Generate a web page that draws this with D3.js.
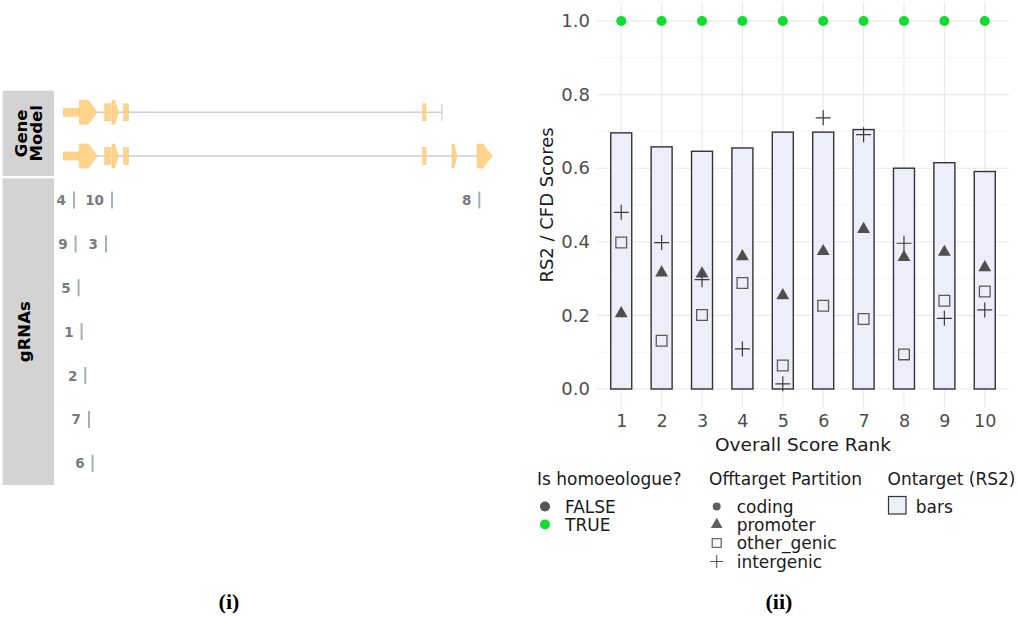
<!DOCTYPE html>
<html>
<head>
<meta charset="utf-8">
<script src="https://cdn.jsdelivr.net/npm/d3@7"></script>
<style>
	body { margin: 0; background: #fff; }
	text { font-family: "DejaVu Sans", sans-serif; }
	text.caption { font-family: "Liberation Serif", "DejaVu Serif", serif; font-weight: bold; }
</style>
</head>
<body>
<div id="container"></div>
<script>
// ---- panel (i) data: gene model + gRNA positions (bp, relative) ----
var transcripts = ["T1", "T2"];
var transcriptEnd = [18950, 21450];
var exonsT1 = [[0, 800, "utr"], [800, 1700, "arrow"], [2070, 2230, "cds"], [2265, 2385, "cds"],
	[2435, 2765, "arrow"], [3015, 3265, "cds"], [17985, 18150, "cds"], [18920, 18950, "tick"]];
var exonsT2 = [[0, 800, "utr"], [800, 1700, "arrow"], [2070, 2230, "cds"], [2265, 2385, "cds"],
	[2435, 2765, "arrow"], [3015, 3265, "cds"], [17985, 18150, "cds"], [19450, 19700, "arrow"],
	[20700, 21450, "arrow"]];
var grnaNames = ["4", "10", "8", "9", "3", "5", "1", "2", "7", "6"];
var grnaPos = [535, 2435, 20815, 615, 2135, 765, 915, 1100, 1285, 1465];
var grnaRow = [1, 1, 1, 2, 2, 3, 4, 5, 6, 7];

// ---- panel (ii) data ----
var ranks = [1, 2, 3, 4, 5, 6, 7, 8, 9, 10];
var rs2 = [0.696, 0.658, 0.646, 0.655, 0.698, 0.698, 0.705, 0.600, 0.615, 0.591];
var homoeologueCfd = [1, 1, 1, 1, 1, 1, 1, 1, 1, 1];
var promoterCfd = [0.205, 0.316, 0.313, 0.360, 0.254, 0.374, 0.434, 0.358, 0.372, 0.330];
var otherGenicCfd = [0.398, 0.131, 0.201, 0.288, 0.064, 0.226, 0.190, 0.094, 0.240, 0.265];
var intergenicCfd = [0.480, 0.398, 0.297, 0.109, 0.014, 0.737, 0.691, 0.396, 0.192, 0.215];
var yTicks = [0, 0.2, 0.4, 0.6, 0.8, 1.0];
var yMinor = [0.1, 0.3, 0.5, 0.7, 0.9];

var w = 1017, h = 617;
var svg = d3.select("#container").append("svg")
	.attr("width", w)
	.attr("height", h);
svg.append("rect").attr("width", w).attr("height", h).attr("fill", "#fff");

// ================= panel (i) =================
var gx = d3.scaleLinear().domain([0, 21450]).range([63.3, 492]);
var ty = d3.scalePoint().domain(transcripts).range([112.3, 156]);
var ry = d3.scalePoint().domain([1, 2, 3, 4, 5, 6, 7]).range([200, 463.3]);

// title strips
svg.append("rect").attr("x", 2.7).attr("y", 90.7).attr("width", 51.3).attr("height", 85.3).attr("fill", "#d3d3d3");
svg.append("rect").attr("x", 2.7).attr("y", 178.3).attr("width", 51.3).attr("height", 306.7).attr("fill", "#d3d3d3");

var gm = svg.append("g").attr("transform", "translate(0,133.3) rotate(-90)");
gm.append("text").attr("x", 0).attr("y", 26.5).attr("text-anchor", "middle")
	.attr("font-size", 16.5).attr("font-weight", "bold").attr("fill", "#000").text("Gene");
gm.append("text").attr("x", 0).attr("y", 42).attr("text-anchor", "middle")
	.attr("font-size", 16.5).attr("font-weight", "bold").attr("fill", "#000").text("Model");
svg.append("text").attr("transform", "translate(30,331.7) rotate(-90)").attr("text-anchor", "middle")
	.attr("font-size", 16.5).attr("font-weight", "bold").attr("fill", "#000").text("gRNAs");

function exonPath(d, cy) {
	var x0 = gx(d[0]), x1 = gx(d[1]);
	var wd = x1 - x0;
	var tip = Math.min(9, wd * 0.6);
	var hh = 12;
	return "M" + x0 + "," + (cy - hh) + "L" + (x1 - tip) + "," + (cy - hh) + "L" + x1 + "," + cy +
		"L" + (x1 - tip) + "," + (cy + hh) + "L" + x0 + "," + (cy + hh) + "Z";
}

function drawTranscript(name, exons, end) {
	var cy = ty(name);
	var g = svg.append("g");
	g.append("line")
		.attr("x1", gx(0)).attr("x2", gx(end))
		.attr("y1", cy).attr("y2", cy)
		.attr("stroke", "#cfcfcf").attr("stroke-width", 1.5);

	g.selectAll("rect.exon")
		.data(exons.filter(function(d) { return d[2] !== "arrow"; }))
		.enter()
		.append("rect")
		.attr("class", "exon")
		.attr("x", function(d) { return gx(d[0]); })
		.attr("width", function(d) { return Math.max(1, gx(d[1]) - gx(d[0])); })
		.attr("y", function(d) { return d[2] === "utr" ? cy - 4 : cy - 8.5; })
		.attr("height", function(d) { return d[2] === "utr" ? 8 : 17; })
		.attr("fill", function(d) { return d[2] === "tick" ? "#c4c4c4" : "#ffd48a"; })
		.attr("stroke", function(d) { return d[2] === "tick" ? "none" : "#f3c472"; })
		.attr("stroke-width", 0.5);

	g.selectAll("path.exon")
		.data(exons.filter(function(d) { return d[2] === "arrow"; }))
		.enter()
		.append("path")
		.attr("class", "exon")
		.attr("d", function(d) { return exonPath(d, cy); })
		.attr("fill", "#ffd48a")
		.attr("stroke", "#f3c472")
		.attr("stroke-width", 0.5);
}
drawTranscript("T1", exonsT1, transcriptEnd[0]);
drawTranscript("T2", exonsT2, transcriptEnd[1]);

// gRNAs
var grnas = grnaNames.map(function(n, i) { return {name: n, pos: grnaPos[i], row: grnaRow[i]}; });
svg.selectAll("rect.grna")
	.data(grnas)
	.enter()
	.append("rect")
	.attr("class", "grna")
	.attr("x", function(d) { return gx(d.pos) - 1; })
	.attr("y", function(d) { return ry(d.row) - 8.5; })
	.attr("width", 2)
	.attr("height", 17)
	.attr("fill", "#a6b0b4");
svg.selectAll("text.grna")
	.data(grnas)
	.enter()
	.append("text")
	.attr("class", "grna")
	.attr("x", function(d) { return gx(d.pos) - 8; })
	.attr("y", function(d) { return ry(d.row) + 5; })
	.attr("text-anchor", "end")
	.attr("font-size", 13.5)
	.attr("font-weight", "bold")
	.attr("fill", "#7a7a7a")
	.text(function(d) { return d.name; });

// ================= panel (ii) =================
var x = d3.scalePoint().domain(ranks).range([597, 1009]).padding(0.6);
var y = d3.scaleLinear().domain([-0.05, 1.05]).range([407.4, 2.6]);
var bw = x.step() * 0.52;

// grid
svg.selectAll("line.minor")
	.data(yMinor)
	.enter()
	.append("line")
	.attr("x1", 597).attr("x2", 1009)
	.attr("y1", function(d) { return y(d); })
	.attr("y2", function(d) { return y(d); })
	.attr("stroke", "#f3f3f3").attr("stroke-width", 0.8);
svg.selectAll("line.major")
	.data(yTicks)
	.enter()
	.append("line")
	.attr("x1", 597).attr("x2", 1009)
	.attr("y1", function(d) { return y(d); })
	.attr("y2", function(d) { return y(d); })
	.attr("stroke", "#e8e8e8").attr("stroke-width", 1.1);
svg.selectAll("line.vmajor")
	.data(ranks)
	.enter()
	.append("line")
	.attr("x1", function(d) { return x(d); })
	.attr("x2", function(d) { return x(d); })
	.attr("y1", 2.6).attr("y2", 407.4)
	.attr("stroke", "#e8e8e8").attr("stroke-width", 1.1);

// axes text
var yAxis = d3.axisLeft(y).tickValues(yTicks).tickFormat(d3.format(".1f")).tickSize(0).tickPadding(7);
var ya = svg.append("g").attr("transform", "translate(597,0)").call(yAxis);
ya.select(".domain").remove();
ya.selectAll("text").attr("font-size", 18).attr("fill", "#4d4d4d");

var xAxis = d3.axisBottom(x).tickSize(0).tickPadding(7);
var xa = svg.append("g").attr("transform", "translate(0,407.4)").call(xAxis);
xa.select(".domain").remove();
xa.selectAll("text").attr("font-size", 17.5).attr("fill", "#4d4d4d");

svg.append("text").attr("x", 803).attr("y", 451).attr("text-anchor", "middle")
	.attr("font-size", 18.5).attr("fill", "#1a1a1a").text("Overall Score Rank");
svg.append("text").attr("transform", "translate(553,205) rotate(-90)").attr("text-anchor", "middle")
	.attr("font-size", 18).attr("fill", "#1a1a1a").text("RS2 / CFD Scores");

// bars
svg.selectAll("rect.bar")
	.data(rs2)
	.enter()
	.append("rect")
	.attr("class", "bar")
	.attr("x", function(d, i) { return x(ranks[i]) - bw / 2; })
	.attr("y", function(d) { return y(d); })
	.attr("width", bw)
	.attr("height", function(d) { return y(0) - y(d); })
	.attr("fill", "#eeeefb")
	.attr("stroke", "#333")
	.attr("stroke-width", 1.4);

// offtarget points
var tri = d3.symbol().type(d3.symbolTriangle).size(72);
var sq = d3.symbol().type(d3.symbolSquare).size(115);
function plusPath(cx, cy, s) {
	return "M" + (cx - s) + "," + cy + "H" + (cx + s) + "M" + cx + "," + (cy - s) + "V" + (cy + s);
}

svg.selectAll("path.other")
	.data(otherGenicCfd)
	.enter()
	.append("path")
	.attr("class", "other")
	.attr("transform", function(d, i) { return "translate(" + x(ranks[i]) + "," + y(d) + ")"; })
	.attr("d", sq)
	.attr("fill", "none")
	.attr("stroke", "#5a5a5a")
	.attr("stroke-width", 1.3);
svg.selectAll("path.promoter")
	.data(promoterCfd)
	.enter()
	.append("path")
	.attr("class", "promoter")
	.attr("transform", function(d, i) { return "translate(" + x(ranks[i]) + "," + y(d) + ")"; })
	.attr("d", tri)
	.attr("fill", "#4f4f4f");
svg.selectAll("path.inter")
	.data(intergenicCfd)
	.enter()
	.append("path")
	.attr("class", "inter")
	.attr("d", function(d, i) { return plusPath(x(ranks[i]), y(d), 7.5); })
	.attr("stroke", "#3a3a3a")
	.attr("stroke-width", 1.2)
	.attr("fill", "none");
svg.selectAll("circle.homoeo")
	.data(homoeologueCfd)
	.enter()
	.append("circle")
	.attr("class", "homoeo")
	.attr("cx", function(d, i) { return x(ranks[i]); })
	.attr("cy", function(d) { return y(d); })
	.attr("r", 5)
	.attr("fill", "#10dd30");

// ---- legends ----
var lg = svg.append("g").attr("font-size", 17).attr("fill", "#1a1a1a");
lg.append("text").attr("x", 537).attr("y", 484.5).text("Is homoeologue?");
lg.append("text").attr("x", 709).attr("y", 484.5).text("Offtarget Partition");
lg.append("text").attr("x", 887.5).attr("y", 484.5).text("Ontarget (RS2)");

var rowY = [506.5, 524.5, 543, 561.5];
// homoeologue
lg.append("circle").attr("cx", 545).attr("cy", rowY[0]).attr("r", 5).attr("fill", "#555");
lg.append("circle").attr("cx", 545).attr("cy", rowY[1]).attr("r", 5).attr("fill", "#10dd30");
lg.append("text").attr("x", 565).attr("y", rowY[0] + 6).text("FALSE");
lg.append("text").attr("x", 565).attr("y", rowY[1] + 6).text("TRUE");
// partitions
lg.append("circle").attr("cx", 716.7).attr("cy", rowY[0]).attr("r", 4).attr("fill", "#5f5f5f");
lg.append("path").attr("transform", "translate(716.7," + rowY[1] + ")")
	.attr("d", d3.symbol().type(d3.symbolTriangle).size(60)).attr("fill", "#5f5f5f");
lg.append("path").attr("transform", "translate(716.7," + rowY[2] + ")")
	.attr("d", d3.symbol().type(d3.symbolSquare).size(80)).attr("fill", "none")
	.attr("stroke", "#6a6a6a").attr("stroke-width", 1.3);
lg.append("path").attr("d", plusPath(716.7, rowY[3], 6.5)).attr("stroke", "#555")
	.attr("stroke-width", 1.1).attr("fill", "none");
["coding", "promoter", "other_genic", "intergenic"].forEach(function(t, i) {
	lg.append("text").attr("x", 736.7).attr("y", rowY[i] + 6).text(t);
});
// ontarget
lg.append("rect").attr("x", 888.5).attr("y", 496.5).attr("width", 17.5).attr("height", 17.5)
	.attr("fill", "#eeeefb").attr("stroke", "#333").attr("stroke-width", 1.2);
lg.append("text").attr("x", 915.7).attr("y", rowY[0] + 6).text("bars");

// captions
svg.append("text").attr("class", "caption").attr("x", 229).attr("y", 609).attr("text-anchor", "middle")
	.attr("font-size", 22).attr("fill", "#000").text("(i)");
svg.append("text").attr("class", "caption").attr("x", 779).attr("y", 609).attr("text-anchor", "middle")
	.attr("font-size", 22).attr("fill", "#000").text("(ii)");
</script>
</body>
</html>
